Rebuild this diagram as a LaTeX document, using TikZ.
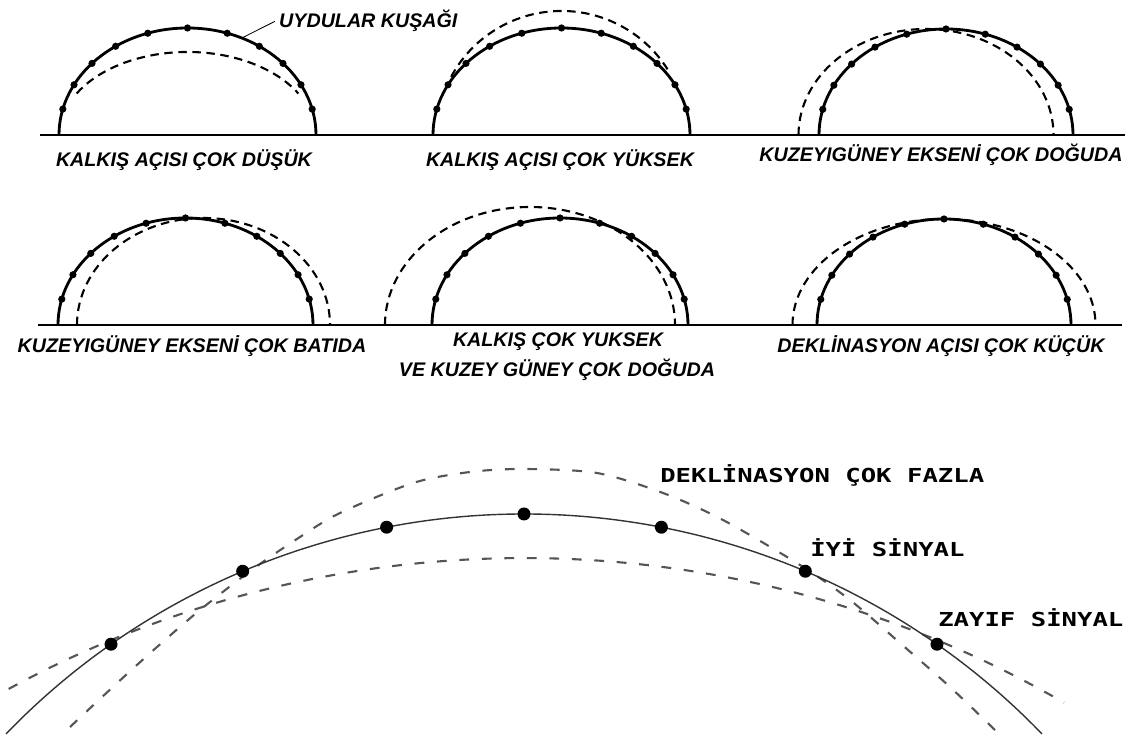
\documentclass[tikz,border=0pt]{standalone}
\usepackage{fontspec}
\usetikzlibrary{positioning}
\newfontfamily\panelfont{Liberation Sans}
\newfontfamily\signalfont[FakeStretch=1.33]{DejaVu Sans Mono}
\definecolor{beltGrey}{HTML}{333333}
\definecolor{dashGrey}{HTML}{555555}

% solid belt with the satellites on it
\newcommand\kusak[2]{%
  \draw[belt] (-#1,0) arc[start angle=180, end angle=0, x radius=#1, y radius=#2];
  \foreach \ang in {14,28,42,56,72,90,108,124,138,152,166}
    \fill ({#1*cos(\ang)},{#2*sin(\ang)}) circle (3.6);
}

\begin{document}
\begin{tikzpicture}[x=0.025cm, y=0.025cm,
   ground/.style={line width=0.9pt},
   belt/.style={line width=2pt},
   offbelt/.style={line width=1.5pt, dash pattern=on 6pt off 4pt},
   lbl/.style={font=\panelfont\bfseries\itshape\fontsize{14}{16}\selectfont,
               inner sep=0pt, anchor=base},
   sig/.style={font=\signalfont\bfseries\fontsize{13.7}{16}\selectfont,
               inner sep=0pt, anchor=base west},
   track/.style={draw=beltGrey, line width=1pt},
   offtrack/.style={draw=dashGrey, line width=1.5pt, dash pattern=on 7pt off 9pt}]

\useasboundingbox (0,0) rectangle (1130,743);

% ground lines
\draw[ground] (40,608) -- (1125,608);
\draw[ground] (38,418) -- (1122,418);

% row 1
\begin{scope}[shift={(187.5,608)}]
  \draw[offbelt] ({128*cos(150)},{83*sin(150)})
     arc[start angle=150, end angle=30, x radius=128, y radius=83];
  \kusak{128.5}{107}
  \coordinate (p1belt) at ({128.5*cos(65)},{107*sin(65)});
\end{scope}
\node[lbl] (p1lbl) at (184,576) {KALKIŞ AÇISI ÇOK DÜŞÜK};
\node[lbl, anchor=base west, outer sep=3pt] (uydu) at (275,715) {UYDULAR KUŞAĞI};
\draw[line width=0.6pt] (p1belt) -- (uydu.west);

\begin{scope}[shift={(561.5,608)}]
  \draw[offbelt] ({125*cos(152)},{124*sin(152)})
     arc[start angle=152, end angle=32, x radius=125, y radius=124];
  \kusak{128.5}{107}
\end{scope}
\node[lbl] (p2lbl) at (560,576) {KALKIŞ AÇISI ÇOK YÜKSEK};

\begin{scope}[shift={(946,608)}]
  \draw[offbelt] (-147.5,0) arc[start angle=180, end angle=0, x radius=127.5, y radius=106];
  \kusak{127}{106}
\end{scope}
\node[lbl] (p3lbl) at (941,581) {KUZEYIGÜNEY EKSENİ ÇOK DOĞUDA};

% row 2
\begin{scope}[shift={(185.5,418)}]
  \draw[offbelt] (-108.5,0) arc[start angle=180, end angle=0, x radius=126.5, y radius=107];
  \kusak{127.5}{107}
\end{scope}
\node[lbl] (p4lbl) at (192,390) {KUZEYIGÜNEY EKSENİ ÇOK BATIDA};

\begin{scope}[shift={(560,418)}]
  \draw[offbelt] (-175,0) arc[start angle=180, end angle=0, x radius=145, y radius=118];
  \kusak{128}{107}
\end{scope}
\node[lbl] (p5lbl) at (558,396) {KALKIŞ ÇOK YUKSEK};
\node[lbl] (p5lbl2) at (557,366) {VE KUZEY GÜNEY ÇOK DOĞUDA};

\begin{scope}[shift={(944,418)}]
  \draw[offbelt] (-151.5,0) arc[start angle=180, end angle=0, x radius=151.5, y radius=106];
  \kusak{127}{106}
\end{scope}
\node[lbl] (p6lbl) at (941,390) {DEKLİNASYON AÇISI ÇOK KÜÇÜK};

% large view
\draw[offtrack] (524,-895) ++(118.5:1080) arc[start angle=118.5, end angle=60, radius=1080];
\draw[offtrack] plot[smooth] coordinates {(70,16) (115,58) (157,96) (200,133)
   (253,174) (300,206) (340,230) (413,260) (470,271) (524,274) (597,270)
   (663,250) (723,223) (800,178) (850,143) (900,100) (950,56) (995,13)};
\draw[track] (524,-491) ++(136:720) arc[start angle=136, end angle=44, radius=720];
\foreach \ang in {55,67,79,90,101,113,125}
  \fill (524,-491) ++(\ang:720) circle (6.5);

\node[sig] (fazla) at (660,260) {DEKLİNASYON ÇOK FAZLA};
\node[sig] (iyi) at (810,186) {İYİ SİNYAL};
\node[sig] (zayif) at (938,116) {ZAYIF SİNYAL};
\end{tikzpicture}
\end{document}
